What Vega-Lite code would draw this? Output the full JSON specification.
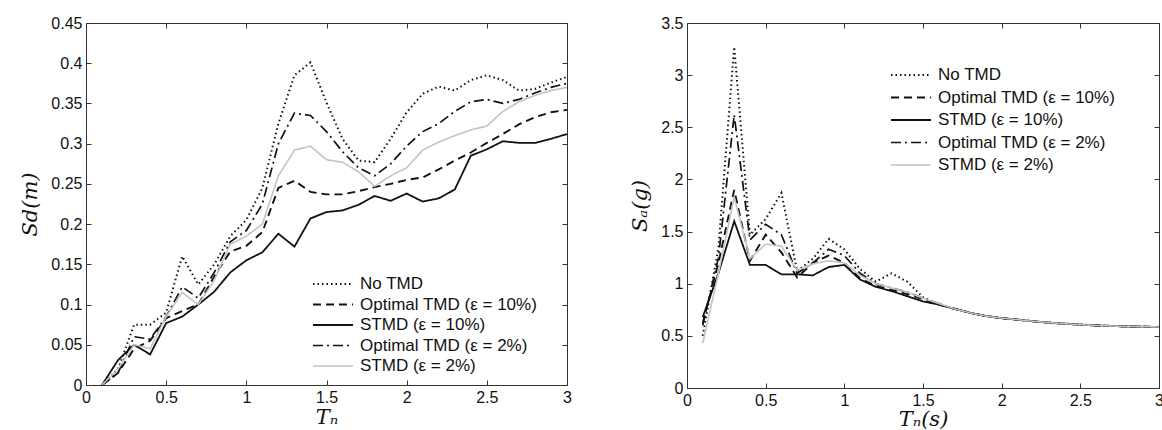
{
  "$schema": "https://vega.github.io/schema/vega-lite/v6.json",
  "padding": {"left": 19, "top": 14, "right": 0, "bottom": 0},
  "background": "white",
  "spacing": 57,
  "datasets": {
    "left": [
      {"T":0.1,"v":0,"s":"No TMD"},{"T":0.2,"v":0.02,"s":"No TMD"},{"T":0.3,"v":0.075,"s":"No TMD"},{"T":0.4,"v":0.075,"s":"No TMD"},{"T":0.5,"v":0.09,"s":"No TMD"},{"T":0.6,"v":0.16,"s":"No TMD"},{"T":0.7,"v":0.125,"s":"No TMD"},{"T":0.8,"v":0.15,"s":"No TMD"},{"T":0.9,"v":0.185,"s":"No TMD"},{"T":1.0,"v":0.205,"s":"No TMD"},{"T":1.1,"v":0.245,"s":"No TMD"},{"T":1.2,"v":0.325,"s":"No TMD"},{"T":1.3,"v":0.385,"s":"No TMD"},{"T":1.4,"v":0.401,"s":"No TMD"},{"T":1.5,"v":0.351,"s":"No TMD"},{"T":1.6,"v":0.306,"s":"No TMD"},{"T":1.7,"v":0.279,"s":"No TMD"},{"T":1.8,"v":0.277,"s":"No TMD"},{"T":1.9,"v":0.306,"s":"No TMD"},{"T":2.0,"v":0.339,"s":"No TMD"},{"T":2.1,"v":0.362,"s":"No TMD"},{"T":2.2,"v":0.371,"s":"No TMD"},{"T":2.3,"v":0.366,"s":"No TMD"},{"T":2.4,"v":0.379,"s":"No TMD"},{"T":2.5,"v":0.385,"s":"No TMD"},{"T":2.6,"v":0.379,"s":"No TMD"},{"T":2.7,"v":0.366,"s":"No TMD"},{"T":2.8,"v":0.368,"s":"No TMD"},{"T":2.9,"v":0.376,"s":"No TMD"},{"T":3.0,"v":0.383,"s":"No TMD"},
      {"T":0.1,"v":0,"s":"Optimal TMD (ε = 10%)"},{"T":0.2,"v":0.015,"s":"Optimal TMD (ε = 10%)"},{"T":0.3,"v":0.045,"s":"Optimal TMD (ε = 10%)"},{"T":0.4,"v":0.055,"s":"Optimal TMD (ε = 10%)"},{"T":0.5,"v":0.083,"s":"Optimal TMD (ε = 10%)"},{"T":0.6,"v":0.092,"s":"Optimal TMD (ε = 10%)"},{"T":0.7,"v":0.1,"s":"Optimal TMD (ε = 10%)"},{"T":0.8,"v":0.135,"s":"Optimal TMD (ε = 10%)"},{"T":0.9,"v":0.166,"s":"Optimal TMD (ε = 10%)"},{"T":1.0,"v":0.173,"s":"Optimal TMD (ε = 10%)"},{"T":1.1,"v":0.19,"s":"Optimal TMD (ε = 10%)"},{"T":1.2,"v":0.245,"s":"Optimal TMD (ε = 10%)"},{"T":1.3,"v":0.254,"s":"Optimal TMD (ε = 10%)"},{"T":1.4,"v":0.24,"s":"Optimal TMD (ε = 10%)"},{"T":1.5,"v":0.237,"s":"Optimal TMD (ε = 10%)"},{"T":1.6,"v":0.237,"s":"Optimal TMD (ε = 10%)"},{"T":1.7,"v":0.241,"s":"Optimal TMD (ε = 10%)"},{"T":1.8,"v":0.246,"s":"Optimal TMD (ε = 10%)"},{"T":1.9,"v":0.25,"s":"Optimal TMD (ε = 10%)"},{"T":2.0,"v":0.255,"s":"Optimal TMD (ε = 10%)"},{"T":2.1,"v":0.258,"s":"Optimal TMD (ε = 10%)"},{"T":2.2,"v":0.268,"s":"Optimal TMD (ε = 10%)"},{"T":2.3,"v":0.279,"s":"Optimal TMD (ε = 10%)"},{"T":2.4,"v":0.289,"s":"Optimal TMD (ε = 10%)"},{"T":2.5,"v":0.301,"s":"Optimal TMD (ε = 10%)"},{"T":2.6,"v":0.312,"s":"Optimal TMD (ε = 10%)"},{"T":2.7,"v":0.324,"s":"Optimal TMD (ε = 10%)"},{"T":2.8,"v":0.333,"s":"Optimal TMD (ε = 10%)"},{"T":2.9,"v":0.339,"s":"Optimal TMD (ε = 10%)"},{"T":3.0,"v":0.342,"s":"Optimal TMD (ε = 10%)"},
      {"T":0.1,"v":0,"s":"STMD (ε = 10%)"},{"T":0.2,"v":0.031,"s":"STMD (ε = 10%)"},{"T":0.3,"v":0.05,"s":"STMD (ε = 10%)"},{"T":0.4,"v":0.038,"s":"STMD (ε = 10%)"},{"T":0.5,"v":0.077,"s":"STMD (ε = 10%)"},{"T":0.6,"v":0.085,"s":"STMD (ε = 10%)"},{"T":0.7,"v":0.1,"s":"STMD (ε = 10%)"},{"T":0.8,"v":0.116,"s":"STMD (ε = 10%)"},{"T":0.9,"v":0.14,"s":"STMD (ε = 10%)"},{"T":1.0,"v":0.155,"s":"STMD (ε = 10%)"},{"T":1.1,"v":0.165,"s":"STMD (ε = 10%)"},{"T":1.2,"v":0.188,"s":"STMD (ε = 10%)"},{"T":1.3,"v":0.172,"s":"STMD (ε = 10%)"},{"T":1.4,"v":0.207,"s":"STMD (ε = 10%)"},{"T":1.5,"v":0.215,"s":"STMD (ε = 10%)"},{"T":1.6,"v":0.217,"s":"STMD (ε = 10%)"},{"T":1.7,"v":0.224,"s":"STMD (ε = 10%)"},{"T":1.8,"v":0.235,"s":"STMD (ε = 10%)"},{"T":1.9,"v":0.229,"s":"STMD (ε = 10%)"},{"T":2.0,"v":0.238,"s":"STMD (ε = 10%)"},{"T":2.1,"v":0.228,"s":"STMD (ε = 10%)"},{"T":2.2,"v":0.232,"s":"STMD (ε = 10%)"},{"T":2.3,"v":0.243,"s":"STMD (ε = 10%)"},{"T":2.4,"v":0.285,"s":"STMD (ε = 10%)"},{"T":2.5,"v":0.293,"s":"STMD (ε = 10%)"},{"T":2.6,"v":0.303,"s":"STMD (ε = 10%)"},{"T":2.7,"v":0.301,"s":"STMD (ε = 10%)"},{"T":2.8,"v":0.301,"s":"STMD (ε = 10%)"},{"T":2.9,"v":0.306,"s":"STMD (ε = 10%)"},{"T":3.0,"v":0.312,"s":"STMD (ε = 10%)"},
      {"T":0.1,"v":0,"s":"Optimal TMD (ε = 2%)"},{"T":0.2,"v":0.015,"s":"Optimal TMD (ε = 2%)"},{"T":0.3,"v":0.06,"s":"Optimal TMD (ε = 2%)"},{"T":0.4,"v":0.057,"s":"Optimal TMD (ε = 2%)"},{"T":0.5,"v":0.085,"s":"Optimal TMD (ε = 2%)"},{"T":0.6,"v":0.122,"s":"Optimal TMD (ε = 2%)"},{"T":0.7,"v":0.108,"s":"Optimal TMD (ε = 2%)"},{"T":0.8,"v":0.14,"s":"Optimal TMD (ε = 2%)"},{"T":0.9,"v":0.178,"s":"Optimal TMD (ε = 2%)"},{"T":1.0,"v":0.192,"s":"Optimal TMD (ε = 2%)"},{"T":1.1,"v":0.225,"s":"Optimal TMD (ε = 2%)"},{"T":1.2,"v":0.3,"s":"Optimal TMD (ε = 2%)"},{"T":1.3,"v":0.338,"s":"Optimal TMD (ε = 2%)"},{"T":1.4,"v":0.335,"s":"Optimal TMD (ε = 2%)"},{"T":1.5,"v":0.315,"s":"Optimal TMD (ε = 2%)"},{"T":1.6,"v":0.29,"s":"Optimal TMD (ε = 2%)"},{"T":1.7,"v":0.27,"s":"Optimal TMD (ε = 2%)"},{"T":1.8,"v":0.26,"s":"Optimal TMD (ε = 2%)"},{"T":1.9,"v":0.275,"s":"Optimal TMD (ε = 2%)"},{"T":2.0,"v":0.297,"s":"Optimal TMD (ε = 2%)"},{"T":2.1,"v":0.315,"s":"Optimal TMD (ε = 2%)"},{"T":2.2,"v":0.325,"s":"Optimal TMD (ε = 2%)"},{"T":2.3,"v":0.34,"s":"Optimal TMD (ε = 2%)"},{"T":2.4,"v":0.352,"s":"Optimal TMD (ε = 2%)"},{"T":2.5,"v":0.355,"s":"Optimal TMD (ε = 2%)"},{"T":2.6,"v":0.35,"s":"Optimal TMD (ε = 2%)"},{"T":2.7,"v":0.355,"s":"Optimal TMD (ε = 2%)"},{"T":2.8,"v":0.363,"s":"Optimal TMD (ε = 2%)"},{"T":2.9,"v":0.37,"s":"Optimal TMD (ε = 2%)"},{"T":3.0,"v":0.375,"s":"Optimal TMD (ε = 2%)"},
      {"T":0.1,"v":0,"s":"STMD (ε = 2%)"},{"T":0.2,"v":0.02,"s":"STMD (ε = 2%)"},{"T":0.3,"v":0.05,"s":"STMD (ε = 2%)"},{"T":0.4,"v":0.045,"s":"STMD (ε = 2%)"},{"T":0.5,"v":0.085,"s":"STMD (ε = 2%)"},{"T":0.6,"v":0.115,"s":"STMD (ε = 2%)"},{"T":0.7,"v":0.1,"s":"STMD (ε = 2%)"},{"T":0.8,"v":0.13,"s":"STMD (ε = 2%)"},{"T":0.9,"v":0.175,"s":"STMD (ε = 2%)"},{"T":1.0,"v":0.185,"s":"STMD (ε = 2%)"},{"T":1.1,"v":0.2,"s":"STMD (ε = 2%)"},{"T":1.2,"v":0.26,"s":"STMD (ε = 2%)"},{"T":1.3,"v":0.292,"s":"STMD (ε = 2%)"},{"T":1.4,"v":0.297,"s":"STMD (ε = 2%)"},{"T":1.5,"v":0.28,"s":"STMD (ε = 2%)"},{"T":1.6,"v":0.277,"s":"STMD (ε = 2%)"},{"T":1.7,"v":0.265,"s":"STMD (ε = 2%)"},{"T":1.8,"v":0.247,"s":"STMD (ε = 2%)"},{"T":1.9,"v":0.26,"s":"STMD (ε = 2%)"},{"T":2.0,"v":0.27,"s":"STMD (ε = 2%)"},{"T":2.1,"v":0.292,"s":"STMD (ε = 2%)"},{"T":2.2,"v":0.302,"s":"STMD (ε = 2%)"},{"T":2.3,"v":0.31,"s":"STMD (ε = 2%)"},{"T":2.4,"v":0.317,"s":"STMD (ε = 2%)"},{"T":2.5,"v":0.322,"s":"STMD (ε = 2%)"},{"T":2.6,"v":0.34,"s":"STMD (ε = 2%)"},{"T":2.7,"v":0.352,"s":"STMD (ε = 2%)"},{"T":2.8,"v":0.36,"s":"STMD (ε = 2%)"},{"T":2.9,"v":0.366,"s":"STMD (ε = 2%)"},{"T":3.0,"v":0.37,"s":"STMD (ε = 2%)"}
    ],
    "right": [
      {"T":0.1,"v":0.5,"s":"No TMD"},{"T":0.2,"v":1.35,"s":"No TMD"},{"T":0.3,"v":3.27,"s":"No TMD"},{"T":0.4,"v":1.47,"s":"No TMD"},{"T":0.5,"v":1.62,"s":"No TMD"},{"T":0.6,"v":1.87,"s":"No TMD"},{"T":0.7,"v":1.12,"s":"No TMD"},{"T":0.8,"v":1.24,"s":"No TMD"},{"T":0.9,"v":1.43,"s":"No TMD"},{"T":1.0,"v":1.33,"s":"No TMD"},{"T":1.1,"v":1.14,"s":"No TMD"},{"T":1.2,"v":1.02,"s":"No TMD"},{"T":1.3,"v":1.1,"s":"No TMD"},{"T":1.4,"v":1.02,"s":"No TMD"},{"T":1.5,"v":0.87,"s":"No TMD"},{"T":1.6,"v":0.8,"s":"No TMD"},{"T":1.7,"v":0.76,"s":"No TMD"},{"T":1.8,"v":0.72,"s":"No TMD"},{"T":1.9,"v":0.69,"s":"No TMD"},{"T":2.0,"v":0.67,"s":"No TMD"},{"T":2.1,"v":0.655,"s":"No TMD"},{"T":2.2,"v":0.64,"s":"No TMD"},{"T":2.3,"v":0.627,"s":"No TMD"},{"T":2.4,"v":0.617,"s":"No TMD"},{"T":2.5,"v":0.607,"s":"No TMD"},{"T":2.6,"v":0.6,"s":"No TMD"},{"T":2.7,"v":0.595,"s":"No TMD"},{"T":2.8,"v":0.59,"s":"No TMD"},{"T":2.9,"v":0.588,"s":"No TMD"},{"T":3.0,"v":0.585,"s":"No TMD"},
      {"T":0.1,"v":0.62,"s":"Optimal TMD (ε = 10%)"},{"T":0.2,"v":1.2,"s":"Optimal TMD (ε = 10%)"},{"T":0.3,"v":1.9,"s":"Optimal TMD (ε = 10%)"},{"T":0.4,"v":1.22,"s":"Optimal TMD (ε = 10%)"},{"T":0.5,"v":1.47,"s":"Optimal TMD (ε = 10%)"},{"T":0.6,"v":1.3,"s":"Optimal TMD (ε = 10%)"},{"T":0.7,"v":1.06,"s":"Optimal TMD (ε = 10%)"},{"T":0.8,"v":1.2,"s":"Optimal TMD (ε = 10%)"},{"T":0.9,"v":1.27,"s":"Optimal TMD (ε = 10%)"},{"T":1.0,"v":1.2,"s":"Optimal TMD (ε = 10%)"},{"T":1.1,"v":1.05,"s":"Optimal TMD (ε = 10%)"},{"T":1.2,"v":0.98,"s":"Optimal TMD (ε = 10%)"},{"T":1.3,"v":0.94,"s":"Optimal TMD (ε = 10%)"},{"T":1.4,"v":0.9,"s":"Optimal TMD (ε = 10%)"},{"T":1.5,"v":0.85,"s":"Optimal TMD (ε = 10%)"},{"T":1.6,"v":0.8,"s":"Optimal TMD (ε = 10%)"},{"T":1.7,"v":0.76,"s":"Optimal TMD (ε = 10%)"},{"T":1.8,"v":0.72,"s":"Optimal TMD (ε = 10%)"},{"T":1.9,"v":0.69,"s":"Optimal TMD (ε = 10%)"},{"T":2.0,"v":0.67,"s":"Optimal TMD (ε = 10%)"},{"T":2.1,"v":0.655,"s":"Optimal TMD (ε = 10%)"},{"T":2.2,"v":0.64,"s":"Optimal TMD (ε = 10%)"},{"T":2.3,"v":0.627,"s":"Optimal TMD (ε = 10%)"},{"T":2.4,"v":0.617,"s":"Optimal TMD (ε = 10%)"},{"T":2.5,"v":0.607,"s":"Optimal TMD (ε = 10%)"},{"T":2.6,"v":0.6,"s":"Optimal TMD (ε = 10%)"},{"T":2.7,"v":0.595,"s":"Optimal TMD (ε = 10%)"},{"T":2.8,"v":0.59,"s":"Optimal TMD (ε = 10%)"},{"T":2.9,"v":0.588,"s":"Optimal TMD (ε = 10%)"},{"T":3.0,"v":0.585,"s":"Optimal TMD (ε = 10%)"},
      {"T":0.1,"v":0.68,"s":"STMD (ε = 10%)"},{"T":0.2,"v":1.1,"s":"STMD (ε = 10%)"},{"T":0.3,"v":1.6,"s":"STMD (ε = 10%)"},{"T":0.4,"v":1.18,"s":"STMD (ε = 10%)"},{"T":0.5,"v":1.18,"s":"STMD (ε = 10%)"},{"T":0.6,"v":1.09,"s":"STMD (ε = 10%)"},{"T":0.7,"v":1.09,"s":"STMD (ε = 10%)"},{"T":0.8,"v":1.08,"s":"STMD (ε = 10%)"},{"T":0.9,"v":1.16,"s":"STMD (ε = 10%)"},{"T":1.0,"v":1.18,"s":"STMD (ε = 10%)"},{"T":1.1,"v":1.04,"s":"STMD (ε = 10%)"},{"T":1.2,"v":0.97,"s":"STMD (ε = 10%)"},{"T":1.3,"v":0.93,"s":"STMD (ε = 10%)"},{"T":1.4,"v":0.88,"s":"STMD (ε = 10%)"},{"T":1.5,"v":0.83,"s":"STMD (ε = 10%)"},{"T":1.6,"v":0.8,"s":"STMD (ε = 10%)"},{"T":1.7,"v":0.76,"s":"STMD (ε = 10%)"},{"T":1.8,"v":0.72,"s":"STMD (ε = 10%)"},{"T":1.9,"v":0.69,"s":"STMD (ε = 10%)"},{"T":2.0,"v":0.67,"s":"STMD (ε = 10%)"},{"T":2.1,"v":0.655,"s":"STMD (ε = 10%)"},{"T":2.2,"v":0.64,"s":"STMD (ε = 10%)"},{"T":2.3,"v":0.627,"s":"STMD (ε = 10%)"},{"T":2.4,"v":0.617,"s":"STMD (ε = 10%)"},{"T":2.5,"v":0.607,"s":"STMD (ε = 10%)"},{"T":2.6,"v":0.6,"s":"STMD (ε = 10%)"},{"T":2.7,"v":0.595,"s":"STMD (ε = 10%)"},{"T":2.8,"v":0.59,"s":"STMD (ε = 10%)"},{"T":2.9,"v":0.588,"s":"STMD (ε = 10%)"},{"T":3.0,"v":0.585,"s":"STMD (ε = 10%)"},
      {"T":0.1,"v":0.6,"s":"Optimal TMD (ε = 2%)"},{"T":0.2,"v":1.25,"s":"Optimal TMD (ε = 2%)"},{"T":0.3,"v":2.62,"s":"Optimal TMD (ε = 2%)"},{"T":0.4,"v":1.42,"s":"Optimal TMD (ε = 2%)"},{"T":0.5,"v":1.57,"s":"Optimal TMD (ε = 2%)"},{"T":0.6,"v":1.47,"s":"Optimal TMD (ε = 2%)"},{"T":0.7,"v":1.1,"s":"Optimal TMD (ε = 2%)"},{"T":0.8,"v":1.2,"s":"Optimal TMD (ε = 2%)"},{"T":0.9,"v":1.33,"s":"Optimal TMD (ε = 2%)"},{"T":1.0,"v":1.27,"s":"Optimal TMD (ε = 2%)"},{"T":1.1,"v":1.1,"s":"Optimal TMD (ε = 2%)"},{"T":1.2,"v":1.0,"s":"Optimal TMD (ε = 2%)"},{"T":1.3,"v":0.96,"s":"Optimal TMD (ε = 2%)"},{"T":1.4,"v":0.92,"s":"Optimal TMD (ε = 2%)"},{"T":1.5,"v":0.86,"s":"Optimal TMD (ε = 2%)"},{"T":1.6,"v":0.81,"s":"Optimal TMD (ε = 2%)"},{"T":1.7,"v":0.76,"s":"Optimal TMD (ε = 2%)"},{"T":1.8,"v":0.72,"s":"Optimal TMD (ε = 2%)"},{"T":1.9,"v":0.69,"s":"Optimal TMD (ε = 2%)"},{"T":2.0,"v":0.67,"s":"Optimal TMD (ε = 2%)"},{"T":2.1,"v":0.655,"s":"Optimal TMD (ε = 2%)"},{"T":2.2,"v":0.64,"s":"Optimal TMD (ε = 2%)"},{"T":2.3,"v":0.627,"s":"Optimal TMD (ε = 2%)"},{"T":2.4,"v":0.617,"s":"Optimal TMD (ε = 2%)"},{"T":2.5,"v":0.607,"s":"Optimal TMD (ε = 2%)"},{"T":2.6,"v":0.6,"s":"Optimal TMD (ε = 2%)"},{"T":2.7,"v":0.595,"s":"Optimal TMD (ε = 2%)"},{"T":2.8,"v":0.59,"s":"Optimal TMD (ε = 2%)"},{"T":2.9,"v":0.588,"s":"Optimal TMD (ε = 2%)"},{"T":3.0,"v":0.585,"s":"Optimal TMD (ε = 2%)"},
      {"T":0.1,"v":0.43,"s":"STMD (ε = 2%)"},{"T":0.2,"v":1.1,"s":"STMD (ε = 2%)"},{"T":0.3,"v":1.83,"s":"STMD (ε = 2%)"},{"T":0.4,"v":1.24,"s":"STMD (ε = 2%)"},{"T":0.5,"v":1.38,"s":"STMD (ε = 2%)"},{"T":0.6,"v":1.36,"s":"STMD (ε = 2%)"},{"T":0.7,"v":1.13,"s":"STMD (ε = 2%)"},{"T":0.8,"v":1.19,"s":"STMD (ε = 2%)"},{"T":0.9,"v":1.22,"s":"STMD (ε = 2%)"},{"T":1.0,"v":1.2,"s":"STMD (ε = 2%)"},{"T":1.1,"v":1.08,"s":"STMD (ε = 2%)"},{"T":1.2,"v":1.0,"s":"STMD (ε = 2%)"},{"T":1.3,"v":0.96,"s":"STMD (ε = 2%)"},{"T":1.4,"v":0.92,"s":"STMD (ε = 2%)"},{"T":1.5,"v":0.86,"s":"STMD (ε = 2%)"},{"T":1.6,"v":0.81,"s":"STMD (ε = 2%)"},{"T":1.7,"v":0.76,"s":"STMD (ε = 2%)"},{"T":1.8,"v":0.72,"s":"STMD (ε = 2%)"},{"T":1.9,"v":0.69,"s":"STMD (ε = 2%)"},{"T":2.0,"v":0.67,"s":"STMD (ε = 2%)"},{"T":2.1,"v":0.655,"s":"STMD (ε = 2%)"},{"T":2.2,"v":0.64,"s":"STMD (ε = 2%)"},{"T":2.3,"v":0.627,"s":"STMD (ε = 2%)"},{"T":2.4,"v":0.617,"s":"STMD (ε = 2%)"},{"T":2.5,"v":0.607,"s":"STMD (ε = 2%)"},{"T":2.6,"v":0.6,"s":"STMD (ε = 2%)"},{"T":2.7,"v":0.595,"s":"STMD (ε = 2%)"},{"T":2.8,"v":0.59,"s":"STMD (ε = 2%)"},{"T":2.9,"v":0.588,"s":"STMD (ε = 2%)"},{"T":3.0,"v":0.585,"s":"STMD (ε = 2%)"}
    ]
  },
  "hconcat": [
    {
      "width": 481,
      "height": 362,
      "data": {"name": "left"},
      "layer": [
        {
          "mark": {"type": "line", "strokeCap": "butt"},
          "encoding": {
            "x": {"field": "T", "type": "quantitative", "scale": {"domain": [0, 3], "nice": false},
                  "axis": {"orient": "bottom", "values": [0, 0.5, 1, 1.5, 2, 2.5, 3], "format": "~g", "title": "Tₙ", "titlePadding": 1}},
            "y": {"field": "v", "type": "quantitative", "scale": {"domain": [0, 0.45], "nice": false},
                  "axis": {"orient": "left", "values": [0, 0.05, 0.1, 0.15, 0.2, 0.25, 0.3, 0.35, 0.4, 0.45], "format": "~g", "title": "Sd(m)", "titlePadding": 10}},
            "detail": {"field": "s"},
            "color": {"field": "s", "type": "nominal", "title": null,
                      "scale": {"domain": ["No TMD", "Optimal TMD (ε = 10%)", "STMD (ε = 10%)", "Optimal TMD (ε = 2%)", "STMD (ε = 2%)"],
                                "range": ["#111111", "#111111", "#111111", "#111111", "#c4c4c4"]},
                      "legend": {"orient": "none", "legendX": 236, "legendY": 250, "rowPadding": 1.5}},
            "strokeDash": {"field": "s", "type": "nominal", "title": null,
                      "scale": {"domain": ["No TMD", "Optimal TMD (ε = 10%)", "STMD (ε = 10%)", "Optimal TMD (ε = 2%)", "STMD (ε = 2%)"],
                                "range": [[1.5, 3], [8, 5], [1, 0], [10, 4, 2, 4], [1, 0]]},
                      "legend": {"orient": "none", "legendX": 236, "legendY": 250, "rowPadding": 1.5}},
            "strokeWidth": {"field": "s", "type": "nominal", "title": null,
                      "scale": {"domain": ["No TMD", "Optimal TMD (ε = 10%)", "STMD (ε = 10%)", "Optimal TMD (ε = 2%)", "STMD (ε = 2%)"],
                                "range": [2, 1.6, 1.6, 1.6, 3]},
                      "legend": {"orient": "none", "legendX": 236, "legendY": 250, "rowPadding": 1.5}}
          }
        },
        {
          "mark": {"type": "point", "opacity": 0},
          "encoding": {
            "x": {"field": "T", "type": "quantitative", "axis": {"orient": "top", "values": [0, 0.5, 1, 1.5, 2, 2.5, 3], "labels": false, "title": null, "domain": false}},
            "y": {"field": "v", "type": "quantitative", "axis": {"orient": "right", "values": [0, 0.05, 0.1, 0.15, 0.2, 0.25, 0.3, 0.35, 0.4, 0.45], "labels": false, "title": null, "domain": false}}
          }
        }
      ],
      "resolve": {"axis": {"x": "independent", "y": "independent"}}
    },
    {
      "width": 472,
      "height": 365,
      "data": {"name": "right"},
      "layer": [
        {
          "mark": {"type": "line", "strokeCap": "butt"},
          "encoding": {
            "x": {"field": "T", "type": "quantitative", "scale": {"domain": [0, 3], "nice": false},
                  "axis": {"orient": "bottom", "values": [0, 0.5, 1, 1.5, 2, 2.5, 3], "format": "~g", "title": "Tₙ(s)", "titlePadding": 0}},
            "y": {"field": "v", "type": "quantitative", "scale": {"domain": [0, 3.5], "nice": false},
                  "axis": {"orient": "left", "values": [0, 0.5, 1, 1.5, 2, 2.5, 3, 3.5], "format": "~g", "title": "Sₐ(g)", "titlePadding": 10}},
            "detail": {"field": "s"},
            "color": {"field": "s", "type": "nominal", "title": null,
                      "scale": {"domain": ["No TMD", "Optimal TMD (ε = 10%)", "STMD (ε = 10%)", "Optimal TMD (ε = 2%)", "STMD (ε = 2%)"],
                                "range": ["#111111", "#111111", "#111111", "#111111", "#c4c4c4"]},
                      "legend": {"orient": "none", "legendX": 213, "legendY": 41, "rowPadding": 3.5}},
            "strokeDash": {"field": "s", "type": "nominal", "title": null,
                      "scale": {"domain": ["No TMD", "Optimal TMD (ε = 10%)", "STMD (ε = 10%)", "Optimal TMD (ε = 2%)", "STMD (ε = 2%)"],
                                "range": [[1.5, 3], [8, 5], [1, 0], [10, 4, 2, 4], [1, 0]]},
                      "legend": {"orient": "none", "legendX": 213, "legendY": 41, "rowPadding": 3.5}},
            "strokeWidth": {"field": "s", "type": "nominal", "title": null,
                      "scale": {"domain": ["No TMD", "Optimal TMD (ε = 10%)", "STMD (ε = 10%)", "Optimal TMD (ε = 2%)", "STMD (ε = 2%)"],
                                "range": [2, 1.6, 1.6, 1.6, 3]},
                      "legend": {"orient": "none", "legendX": 213, "legendY": 41, "rowPadding": 3.5}}
          }
        },
        {
          "mark": {"type": "point", "opacity": 0},
          "encoding": {
            "x": {"field": "T", "type": "quantitative", "axis": {"orient": "top", "values": [0, 0.5, 1, 1.5, 2, 2.5, 3], "labels": false, "title": null, "domain": false}},
            "y": {"field": "v", "type": "quantitative", "axis": {"orient": "right", "values": [0, 0.5, 1, 1.5, 2, 2.5, 3, 3.5], "labels": false, "title": null, "domain": false}}
          }
        }
      ],
      "resolve": {"axis": {"x": "independent", "y": "independent"}, "scale": {"color": "independent", "strokeDash": "independent", "strokeWidth": "independent"}}
    }
  ],
  "resolve": {"scale": {"color": "independent", "strokeDash": "independent", "strokeWidth": "independent"}, "legend": {"color": "independent", "strokeDash": "independent", "strokeWidth": "independent"}},
  "config": {
    "view": {"stroke": "#333333", "strokeWidth": 1},
    "axis": {
      "grid": false,
      "labelFont": "Liberation Sans", "labelFontSize": 16, "labelColor": "#111111",
      "labelFlush": false, "labelOverlap": false, "labelBound": false,
      "labelPadding": 9,
      "domainColor": "#333333", "tickColor": "#333333", "tickSize": -5,
      "titleFont": "DejaVu Serif", "titleFontStyle": "italic", "titleFontWeight": "normal", "titleFontSize": 21, "titleColor": "#111111"
    },
    "legend": {
      "labelFont": "Liberation Sans", "labelFontSize": 17, "labelColor": "#111111", "labelLimit": 400,
      "symbolType": "M-2,0L2,0", "symbolSize": 400, "padding": 0, "labelOffset": 16, "symbolOffset": 0
    }
  }
}
